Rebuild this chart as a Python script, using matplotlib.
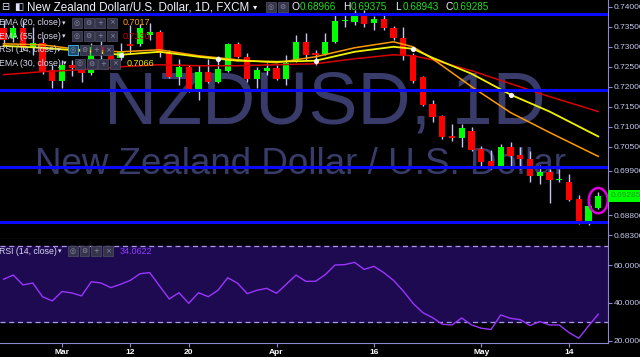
import matplotlib
matplotlib.use('Agg')
import matplotlib.pyplot as plt
import numpy as np
import pandas as pd
from matplotlib.patches import Ellipse, Rectangle

plt.rcParams['font.family'] = ['Liberation Sans', 'DejaVu Sans']

# daily bars, NZD/USD (FXCM), 21 Feb - 17 May 2018
dates = pd.bdate_range('2018-02-21', '2018-05-17')

opens = [0.73471, 0.73222, 0.73471, 0.72974, 0.73098, 0.72427, 0.72153, 0.72551, 0.72427, 0.72352,
         0.72999, 0.72924, 0.72725, 0.73073, 0.73073, 0.73297, 0.73372, 0.72849, 0.72253, 0.72501,
         0.71880, 0.72377, 0.72128, 0.72402, 0.73073, 0.72750, 0.72203, 0.72402, 0.72477, 0.72203,
         0.72651, 0.73123, 0.72849, 0.72825, 0.73123, 0.73633, 0.73620, 0.73819, 0.73595, 0.73695,
         0.73471, 0.73222, 0.72800, 0.72253, 0.71582, 0.71283, 0.70761, 0.70712, 0.70886, 0.70438,
         0.70140, 0.70015, 0.70488, 0.70289, 0.70189, 0.69767, 0.69866, 0.69680, 0.69618, 0.69195,
         0.68648, 0.68966]
highs = [0.73670, 0.73546, 0.73670, 0.73496, 0.73222, 0.72551, 0.72675, 0.72675, 0.72551, 0.73098,
         0.73173, 0.73048, 0.73098, 0.73546, 0.73570, 0.73595, 0.73421, 0.72924, 0.72700, 0.72551,
         0.72551, 0.72700, 0.72775, 0.73098, 0.73123, 0.72849, 0.72501, 0.72601, 0.72551, 0.72800,
         0.73297, 0.73347, 0.72924, 0.73347, 0.73844, 0.73844, 0.73918, 0.73918, 0.73769, 0.73794,
         0.73521, 0.73496, 0.72849, 0.72278, 0.71681, 0.71308, 0.71060, 0.71060, 0.70985, 0.70513,
         0.70413, 0.70562, 0.70612, 0.70488, 0.70388, 0.70040, 0.69941, 0.69941, 0.69817, 0.69294,
         0.69220, 0.69375]
lows = [0.73073, 0.73123, 0.72924, 0.72800, 0.72327, 0.71979, 0.71979, 0.72278, 0.72128, 0.72303,
        0.72626, 0.72551, 0.72675, 0.72849, 0.73023, 0.73173, 0.72750, 0.72228, 0.72054, 0.71870,
        0.71681, 0.72104, 0.72104, 0.72377, 0.72725, 0.72128, 0.71979, 0.72303, 0.72178, 0.72054,
        0.72626, 0.72675, 0.72551, 0.72800, 0.73098, 0.73496, 0.73546, 0.73496, 0.73421, 0.73421,
        0.73173, 0.72675, 0.72104, 0.71532, 0.71134, 0.70687, 0.70637, 0.70488, 0.70388, 0.69966,
        0.69941, 0.69991, 0.70015, 0.69941, 0.69618, 0.69568, 0.69096, 0.69618, 0.69145, 0.68574,
        0.68549, 0.68943]
closes = [0.73173, 0.73471, 0.72999, 0.73098, 0.72377, 0.72153, 0.72551, 0.72477, 0.72352, 0.72999,
          0.72874, 0.72675, 0.72874, 0.73023, 0.73471, 0.73372, 0.72849, 0.72253, 0.72501, 0.71880,
          0.72377, 0.72128, 0.72452, 0.73073, 0.72750, 0.72203, 0.72427, 0.72477, 0.72203, 0.72601,
          0.73123, 0.72800, 0.72800, 0.73123, 0.73645, 0.73657, 0.73794, 0.73570, 0.73695, 0.73471,
          0.73222, 0.72800, 0.72153, 0.71557, 0.71258, 0.70736, 0.70712, 0.70960, 0.70413, 0.70115,
          0.70015, 0.70488, 0.70264, 0.70189, 0.69767, 0.69866, 0.69667, 0.69705, 0.69170, 0.68648,
          0.69021, 0.69285]

# moving averages at these bars
ema_idx = [0, 4, 8, 12, 16, 20, 22, 24, 28, 32, 36, 40, 42, 44, 48, 52, 56, 61]
ema20 = [0.73073, 0.73048, 0.72924, 0.72874, 0.72924, 0.72775, 0.72725, 0.72675, 0.72601, 0.72750,
         0.72974, 0.73123, 0.72999, 0.72700, 0.72004, 0.71358, 0.70861, 0.70264]
ema30 = [0.73023, 0.72974, 0.72899, 0.72800, 0.72874, 0.72750, 0.72700, 0.72651, 0.72626, 0.72651,
         0.72874, 0.72999, 0.72949, 0.72725, 0.72327, 0.71805, 0.71383, 0.70761]
ema55 = [0.72303, 0.72377, 0.72427, 0.72501, 0.72551, 0.72526, 0.72526, 0.72526, 0.72551, 0.72576,
         0.72700, 0.72800, 0.72775, 0.72675, 0.72402, 0.72079, 0.71756, 0.71383]
dot_idx = [12, 22, 32, 42, 52]
dot_val = [0.72800, 0.72700, 0.72651, 0.72949, 0.71805]

rsi = [52.5, 54.7, 49.5, 50.5, 43.3, 41.1, 46.0, 45.3, 43.7, 51.2,
       50.5, 48.1, 49.8, 51.9, 55.4, 56.0, 49.0, 42.1, 45.4, 39.8,
       45.4, 43.3, 46.7, 53.3, 50.4, 44.9, 46.7, 47.7, 45.1, 49.8,
       54.7, 51.4, 51.4, 54.9, 60.0, 60.2, 61.4, 57.7, 59.3, 56.0,
       51.9, 46.3, 39.8, 34.9, 32.3, 28.8, 28.4, 32.1, 28.4, 26.7,
       26.0, 33.7, 31.9, 31.2, 28.1, 30.2, 28.4, 28.4, 24.4, 21.4,
       27.9, 34.0622]

levels = [0.73807, 0.71917, 0.69995, 0.68623]  # blue horizontal lines
price_ticks = [0.683, 0.688, 0.699, 0.705, 0.71, 0.715, 0.72, 0.725, 0.73, 0.735, 0.74]
rsi_ticks = [20, 40, 60]
date_ticks = ['2018-03-01', '2018-03-12', '2018-03-20', '2018-04-02', '2018-04-16', '2018-05-01', '2018-05-14']
date_labels = ['Mar', '12', '20', 'Apr', '16', 'May', '14']

legend_names = ['EMA (20, close)', 'EMA (55, close)', 'RSI (14, close)', 'EMA (30, close)']
legend_vals = ['0.7017', '0.7130', '', '0.7066']
legend_cols = ['#ffa11a', '#cc0000', '#ffffff', '#e8e800']

W, H = 640, 357
def fx(x):
    return x / W
def fy(y):
    return 1 - y / H

fig = plt.figure(figsize=(6.4, 3.57), dpi=100, facecolor='black')
ax = fig.add_axes([0, fy(239), 608 / W, 239 / H])
rax = fig.add_axes([0, fy(343), 608 / W, 104 / H], sharex=ax)

edge = '#8c88d0'
tcol = '#c8c8f0'
for a in (ax, rax):
    a.set_facecolor('black')
    a.spines['left'].set_visible(False)
    a.spines['top'].set_visible(False)
    a.spines['right'].set_color(edge)
    a.spines['bottom'].set_color(edge)
    a.yaxis.tick_right()

x = np.arange(len(dates))
o = np.array(opens); h = np.array(highs); l = np.array(lows); c = np.array(closes)
up = c >= o
cols = np.where(up, '#00ff00', '#ff0000')

# watermark
ax.text(0.5345, 0.485, 'NZDUSD, 1D', transform=ax.transAxes, ha='center', va='baseline',
        fontsize=53, color='#393c6a', zorder=1)
ax.text(0.494, 0.27, 'New Zealand Dollar / U.S. Dollar', transform=ax.transAxes, ha='center',
        va='baseline', fontsize=26.5, color='#393c6a', zorder=1)

ax.vlines(x, l, h, color='#c4c4f4', lw=1, zorder=3)
body = np.maximum(np.abs(c - o), 0.0003)
ax.bar(x, body, bottom=np.minimum(o, c), width=0.66, color=cols, linewidth=0, zorder=4)

ax.plot(ema_idx, ema55, color='#d90000', lw=1.1, zorder=5)
ax.plot(ema_idx, ema20, color='#ff9a00', lw=1.1, zorder=5)
ax.plot(ema_idx, ema30, color='#f2f200', lw=1.3, zorder=5)
ax.scatter(dot_idx, dot_val, s=14, color='#f4f4ff', zorder=6, linewidths=0)

for v in levels:
    ax.axhline(v, color='#0a0aff', lw=2.2, zorder=6)

ax.add_patch(Ellipse((x[-1], (h[-1] + l[-1]) / 2), 1.95, 0.0063, fill=False,
                     ec='#e000e0', lw=1.8, zorder=7))

ax.set_xlim(-0.36, 62.0)
ax.set_ylim(0.68201, 0.74167)
ax.set_yticks(price_ticks)
ax.set_yticklabels([f'{v:.5f}' for v in price_ticks])
ax.tick_params(axis='y', colors=tcol, labelsize=6, length=3, width=0.8, pad=1)
ax.tick_params(axis='y', color=edge)
ax.tick_params(axis='x', bottom=False, labelbottom=False)

ax.text(1.004, closes[-1], f'{closes[-1]:.5f}', transform=ax.get_yaxis_transform(), ha='left',
        va='center', fontsize=6, color='#1c9e1c', clip_on=False, zorder=10,
        bbox=dict(boxstyle='square,pad=0.3', fc='#00ff00', ec='none'))

# RSI pane
rax.axhspan(30, 70, color='#1e0a50', zorder=0)
rax.axhline(70, color='#a89be0', lw=0.9, ls=(0, (4, 3)))
rax.axhline(30, color='#a89be0', lw=0.9, ls=(0, (4, 3)))
rax.plot(x, rsi, color='#9a35ff', lw=1, zorder=3)
rax.set_ylim(18.9, 73.7)
rax.set_yticks(rsi_ticks)
rax.set_yticklabels([f'{v:.4f}' for v in rsi_ticks])
rax.tick_params(axis='y', colors=tcol, labelsize=6, length=3, width=0.8, pad=1)
rax.tick_params(axis='y', color=edge)
tick_pos = [dates.get_loc(pd.Timestamp(d)) for d in date_ticks]
rax.set_xticks(tick_pos)
rax.set_xticklabels(date_labels, fontweight='bold')
rax.tick_params(axis='x', colors='white', labelsize=6, length=3, pad=1)
rax.tick_params(axis='x', color=edge)


def icons(x0, yc, n, hl=False):
    syms = ['◎', '⚙', '+', '×']
    for k in range(n):
        xx = x0 + k * 11.5
        fc = '#1f4a6a' if (hl and k == 0) else '#34344a'
        ec = '#40c0ff' if (hl and k == 0) else '#4a4a60'
        fig.add_artist(Rectangle((fx(xx), fy(yc + 5)), 10 / W, 10 / H, transform=fig.transFigure,
                                 fc=fc, ec=ec, lw=0.6))
        fig.text(fx(xx + 5), fy(yc), syms[k % 4], ha='center', va='center', fontsize=5,
                 color='#8a8aa6', family='DejaVu Sans')


# header
fig.text(fx(1), fy(7), '⊟', fontsize=7, color='#e0e0ff', va='center', family='DejaVu Sans')
fig.text(fx(14), fy(7), '◧', fontsize=7, color='#e0e0ff', va='center', family='DejaVu Sans')
fig.text(fx(27), fy(7), 'New Zealand Dollar/U.S. Dollar, 1D, FXCM', fontsize=8.4,
         color='#f0f0ff', va='center')
fig.text(fx(253), fy(7), '▾', fontsize=6, color='#f0f0ff', va='center', family='DejaVu Sans')
icons(266, 7, 2)
ohlc = [('O', opens[-1], 292), ('H', highs[-1], 343), ('L', lows[-1], 395), ('C', closes[-1], 445)]
for lab, val, px in ohlc:
    fig.text(fx(px), fy(7), lab, fontsize=7.4, color='#f0f0ff', va='center')
    fig.text(fx(px + 8), fy(7), f'{val:.5f}', fontsize=7.2, color='#22dd22', va='center')

# legend rows
rows_y = [22.7, 36.2, 49.8, 63.5]
for k, (name, val, col) in enumerate(zip(legend_names, legend_vals, legend_cols)):
    yc = rows_y[k]
    fig.text(fx(-1), fy(yc), name, fontsize=6.3, color='#d8d8f0', va='center')
    tri = 62 if k < 2 else (57 if k == 2 else 63)
    fig.text(fx(tri), fy(yc), '▾', fontsize=5, color='#d8d8f0', va='center', family='DejaVu Sans')
    ix = 72 if k < 2 else (68 if k == 2 else 75)
    icons(ix, yc, 4, hl=(k == 2))
    if val:
        fig.text(fx(123 if k < 2 else 127), fy(yc), val, fontsize=6.5, color=col, va='center')

fig.text(fx(-1), fy(251), 'RSI (14, close)', fontsize=6.3, color='#d8d8f0', va='center')
fig.text(fx(58), fy(251), '▾', fontsize=5, color='#d8d8f0', va='center', family='DejaVu Sans')
icons(68, 251, 4)
fig.text(fx(120), fy(251), f'{rsi[-1]:.4f}', fontsize=6.5, color='#8f3cff', va='center')

fig.savefig('out.png', dpi=100, facecolor='black')
